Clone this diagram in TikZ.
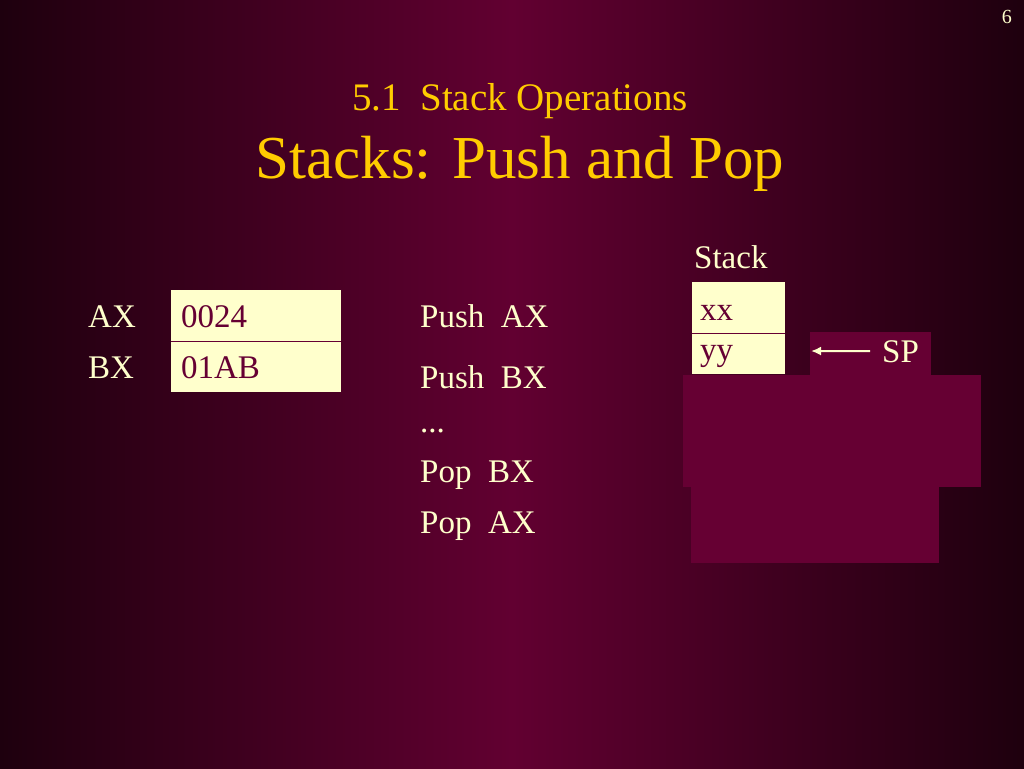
\documentclass[tikz,border=0pt]{standalone}
\usepackage{fontspec}
\setmainfont{Liberation Serif}
\usetikzlibrary{arrows.meta,positioning}

\definecolor{maroon}{HTML}{660033}
\definecolor{edgedark}{HTML}{1E000E}
\definecolor{cream}{HTML}{FFFFCC}
\definecolor{gold}{HTML}{FFCC00}

\begin{document}
\begin{tikzpicture}[x=1pt,y=-1pt,
  txt/.style={text=cream,font=\fontsize{33}{40}\selectfont,inner sep=0pt,anchor=base west},
  regcell/.style={fill=cream,text=maroon,font=\fontsize{33}{40}\selectfont,
    minimum height=51pt,text width=150pt,inner xsep=10pt,inner ysep=0pt,align=left,
    text height=25pt,text depth=2pt},
  stackcell/.style={regcell,text width=77pt,inner xsep=8pt},
  divider/.style={draw=maroon,line width=1.2pt},
  mask/.style={fill=maroon},
  sparrow/.style={-{Latex[length=10pt,width=9pt]},draw=cream,line width=2pt,shorten <=12pt}]
  % background
  \shade[left color=edgedark,right color=edgedark,middle color=maroon!96!black] (0,0) rectangle (1024,768);
  % titles
  \node[text=cream,font=\fontsize{20}{24}\selectfont,inner sep=0pt,anchor=base east] (pg) at (1012,24) {6};
  \node[text=gold,font=\fontsize{39}{46}\selectfont,inner sep=0pt,anchor=base] (sub) at (520,110) {5.1\ \ Stack Operations};
  \node[text=gold,font=\fontsize{61}{70}\selectfont,inner sep=0pt,anchor=base] (ttl) at (520,178) {Stacks: Push and Pop};
  % registers
  \node[txt] (axlbl) at (88,327) {AX};
  \node[txt] (bxlbl) at (88,378) {BX};
  \node[regcell] (axval) at (256,315.5) {0024};
  \node[regcell,below=0pt of axval] (bxval) {01AB};
  \draw[divider] (axval.south west) -- (axval.south east);
  % instructions
  \node[txt] (pushax) at (420,327) {Push\ \ AX};
  \node[txt] (pushbx) at (420,388) {Push\ \ BX};
  \node[txt] (dots)   at (420,432) {...};
  \node[txt] (popbx)  at (420,482) {Pop\ \ BX};
  \node[txt] (popax)  at (420,533) {Pop\ \ AX};
  % hidden parts of the stack
  \fill[mask] (810,332) rectangle (931,375);
  \fill[mask] (683,375) rectangle (981,487);
  \fill[mask] (691,487) rectangle (939,563);
  % stack
  \node[txt] (stacklbl) at (694,268) {Stack};
  \node[stackcell,text height=25pt,text depth=0pt] (xx) at (738.5,307.5) {xx};
  \node[stackcell,minimum height=41pt,text height=15pt,text depth=2pt,below=0pt of xx] (yy) {yy};
  \draw[divider] (xx.south west) -- (xx.south east);
  \node[txt] (sp) at (882,362) {SP};
  \coordinate (sptip) at (811,351);
  \draw[sparrow] (sp.west) -- (sptip);
\end{tikzpicture}
\end{document}
